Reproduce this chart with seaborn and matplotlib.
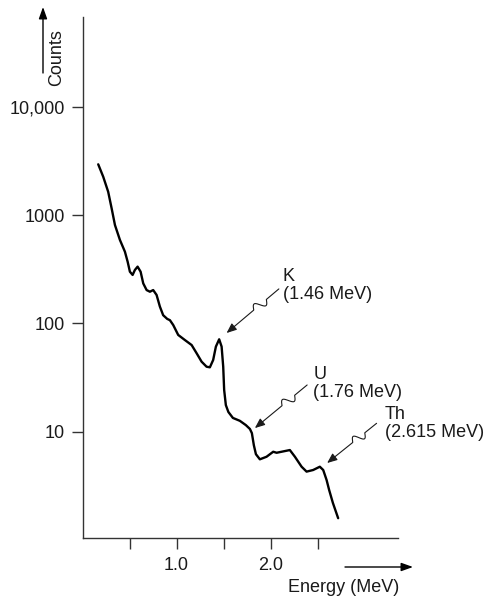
import numpy as np
import seaborn as sns
import matplotlib.pyplot as plt

sns.set_style("ticks")
plt.rcParams["font.family"] = ["Liberation Sans", "DejaVu Sans"]

# gamma ray spectrum
energy = [0.166, 0.219, 0.272, 0.309, 0.344, 0.397, 0.450, 0.479, 0.503, 0.532,
          0.556, 0.585, 0.617, 0.645, 0.681, 0.716, 0.751, 0.787, 0.822, 0.857,
          0.900, 0.929, 0.964, 1.017, 1.088, 1.160, 1.213, 1.266, 1.319, 1.354,
          1.389, 1.418, 1.453, 1.479, 1.496, 1.506, 1.524, 1.551, 1.599, 1.673,
          1.737, 1.780, 1.801, 1.822, 1.844, 1.886, 1.957, 2.028, 2.064, 2.117,
          2.205, 2.259, 2.330, 2.383, 2.453, 2.524, 2.560, 2.596, 2.623, 2.663,
          2.719]
counts = [2940, 2260, 1640, 1150, 809, 589, 459, 371, 300, 280,
          311, 334, 300, 234, 203, 196, 203, 183, 143, 119,
          110, 107, 96.6, 78.2, 70.2, 63.1, 53.0, 44.3, 39.8, 39.3,
          45.9, 61.0, 71.3, 61.0, 39.8, 24.3, 17.6, 15.2, 13.4, 12.6,
          11.5, 10.6, 9.7, 7.5, 6.2, 5.56, 5.87, 6.53, 6.39, 6.53,
          6.77, 5.87, 4.75, 4.28, 4.43, 4.75, 4.43, 3.58, 2.90, 2.20,
          1.59]

x_ticks = [0.5, 1.0, 1.5, 2.0, 2.5]
x_tick_labels = ["", "1.0", "", "2.0", ""]
y_ticks = [10, 100, 1000, 10000]
y_tick_labels = ["10", "100", "1000", "10,000"]

peak_labels = ["K\n(1.46 MeV)", "U\n(1.76 MeV)", "Th\n(2.615 MeV)"]
label_xy = [(2.131, 324), (2.453, 40.4), (3.216, 17.3)]
tail_xy = [(2.088, 208), (2.389, 27.0), (3.128, 11.95)]
head_xy = [(1.532, 81.5), (1.833, 10.8), (2.602, 5.14)]

FS = 13
INK = "#1a1a1a"

fig = plt.figure(figsize=(4.86, 5.98), dpi=100)
ax = fig.add_axes([0.170, 0.1008, 0.648, 0.8707])
ax.set_yscale("log")
ax.set_xlim(0, 3.351)
ax.set_ylim(1.05, 67300)

sns.lineplot(x=energy, y=counts, sort=False, color="black", lw=1.7, ax=ax,
             solid_joinstyle="round", solid_capstyle="round")

sns.despine(ax=ax)
for s in ["left", "bottom"]:
    ax.spines[s].set_color("#333333")
    ax.spines[s].set_linewidth(1.0)

ax.minorticks_off()
ax.set_xticks(x_ticks)
ax.set_xticklabels(x_tick_labels, fontsize=FS)
ax.set_yticks(y_ticks)
ax.set_yticklabels(y_tick_labels, fontsize=FS)
ax.tick_params(axis="both", which="major", length=8, width=1.0,
               color="#333333", labelcolor=INK, direction="out")
ax.tick_params(axis="x", pad=6)
ax.tick_params(axis="y", pad=5)
ax.grid(False)


def squiggle_arrow(ax, tail, head):
    # straight tail with one small wiggle, then an arrowhead
    p0 = ax.transData.transform(tail)
    p1 = ax.transData.transform(head)
    d = p1 - p0
    u = d / np.hypot(*d)
    n = np.array([-u[1], u[0]])
    t = np.linspace(0, 0.85, 200)
    w = (t > 0.24) & (t < 0.48)
    amp = np.where(w, np.sin((t - 0.24) / 0.24 * 2 * np.pi), 0) * 4.5
    pts = p0 + np.outer(t, d) + np.outer(amp, n)
    dpts = ax.transData.inverted().transform(pts)
    ax.plot(dpts[:, 0], dpts[:, 1], color=INK, lw=0.8, clip_on=False)
    ax.annotate("", xy=head, xytext=tuple(dpts[-1]),
                arrowprops=dict(arrowstyle="-|>,head_length=0.6,head_width=0.25",
                                color=INK, lw=0.8, shrinkA=0, shrinkB=0),
                annotation_clip=False)


for lab, lxy, txy, hxy in zip(peak_labels, label_xy, tail_xy, head_xy):
    ax.text(lxy[0], lxy[1], lab, ha="left", va="top", fontsize=FS,
            color=INK, linespacing=1.1, clip_on=False)
    squiggle_arrow(ax, txy, hxy)

# axis titles with arrows, outside the axes
W, H = 486, 598
fig.text(57 / W, 1 - 57.5 / H, "Counts", rotation=90, ha="center", va="center",
         fontsize=FS, color=INK)
ax.annotate("", xy=(43 / W, 1 - 7 / H), xytext=(43 / W, 1 - 73 / H),
            xycoords="figure fraction", textcoords="figure fraction",
            arrowprops=dict(arrowstyle="-|>,head_length=0.7,head_width=0.25",
                            color="black", lw=1.0, shrinkA=0, shrinkB=0))
fig.text(288 / W, 1 - 588 / H, "Energy (MeV)", ha="left", va="center",
         fontsize=FS, color=INK)
ax.annotate("", xy=(413 / W, 1 - 567 / H), xytext=(345 / W, 1 - 567 / H),
            xycoords="figure fraction", textcoords="figure fraction",
            arrowprops=dict(arrowstyle="-|>,head_length=0.7,head_width=0.25",
                            color="black", lw=1.0, shrinkA=0, shrinkB=0))

fig.savefig("out.png", dpi=100)
